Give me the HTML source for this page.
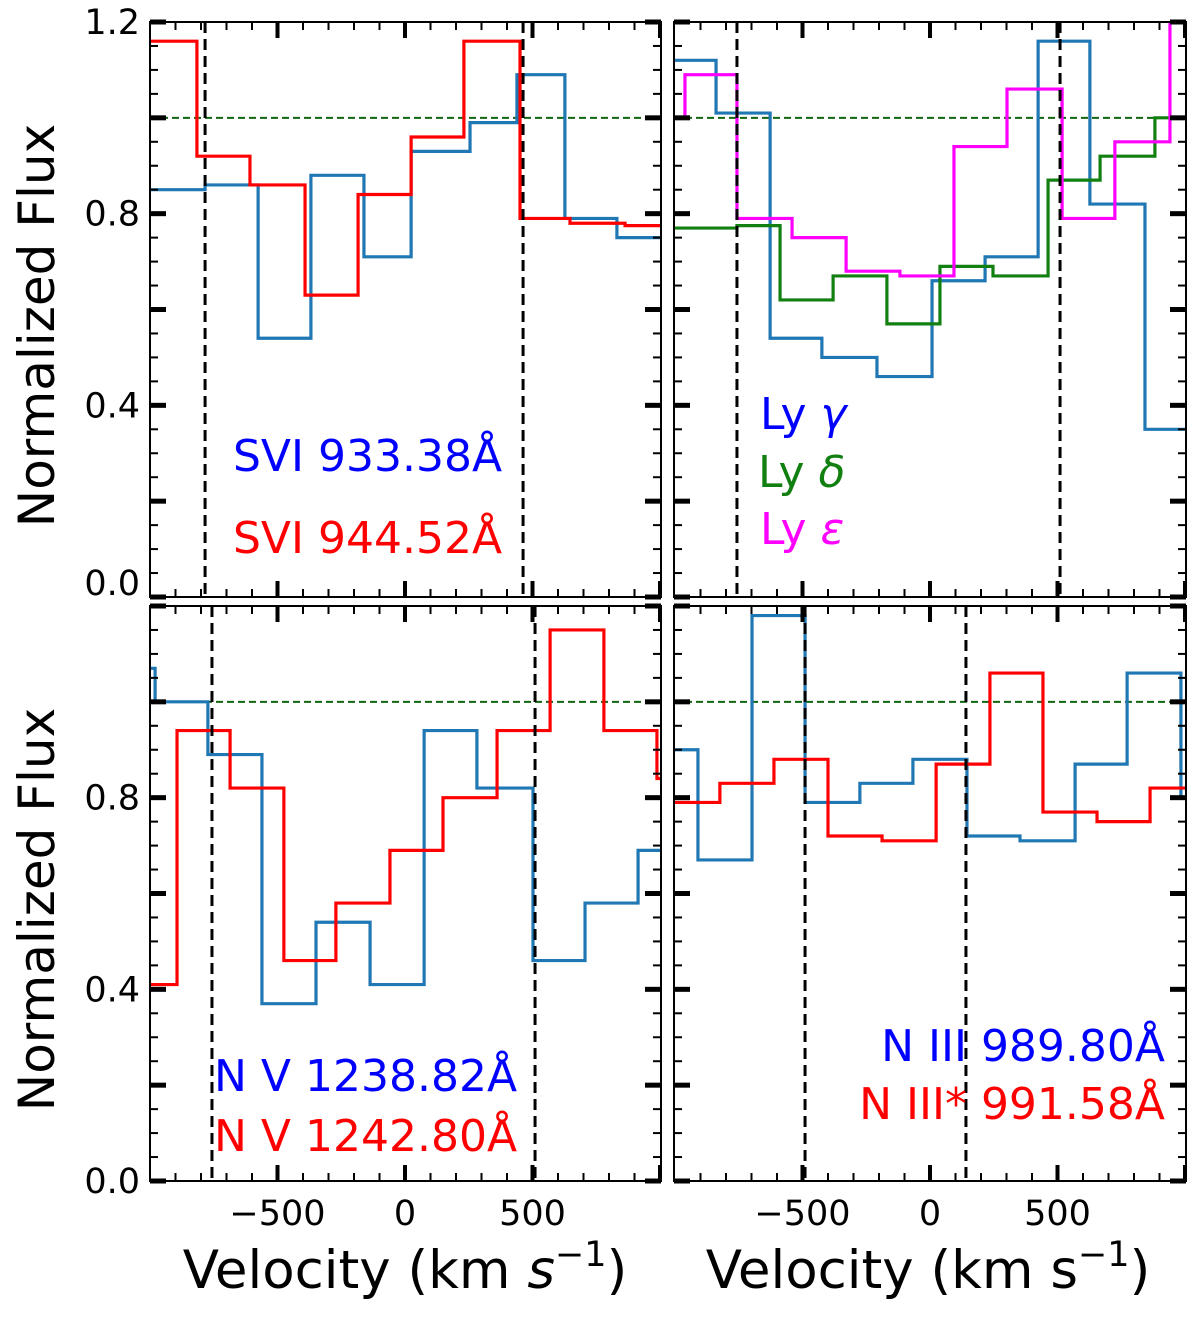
<!DOCTYPE html>
<html><head><meta charset="utf-8"><style>
html,body{margin:0;padding:0;background:#fff;}
svg{display:block;font-family:"DejaVu Sans","Liberation Sans",sans-serif;}
</style></head><body>
<svg id="fig" width="1200" height="1317" viewBox="0 0 1200 1317" xmlns="http://www.w3.org/2000/svg"></svg>
<script>
// ---- data ----
const tlBlueEdges=[-1000,-784,-576,-369,-161,24,255,439,627,831,1010];
const tlBlueVals=[0.85,0.86,0.54,0.88,0.71,0.93,0.99,1.09,0.79,0.75];
const tlRedEdges=[-1000,-816,-608,-392,-184,24,231,451,647,863,1010];
const tlRedVals=[1.16,0.92,0.86,0.63,0.84,0.96,1.16,0.79,0.78,0.775];
const trBlueEdges=[-1000,-839,-627,-424,-208,8,216,424,627,843,1010];
const trBlueVals=[1.12,1.01,0.54,0.50,0.46,0.66,0.71,1.16,0.82,0.35];
const trGreenEdges=[-1000,-757,-588,-380,-169,39,247,463,667,882,1010];
const trGreenVals=[0.77,0.775,0.62,0.67,0.57,0.69,0.67,0.87,0.92,1.0];
const trMagEdges=[-1000,-961,-757,-541,-329,-118,94,302,518,725,941,1010];
const trMagVals=[1.0,1.09,0.79,0.75,0.68,0.67,0.94,1.06,0.79,0.95,1.2];
const blBlueEdges=[-1000,-980,-773,-561,-349,-137,75,282,502,706,914,1010];
const blBlueVals=[1.07,1.0,0.89,0.37,0.54,0.41,0.94,0.82,0.46,0.58,0.69];
const blRedEdges=[-1000,-894,-686,-475,-271,-59,149,361,569,780,988,1010];
const blRedVals=[0.41,0.94,0.82,0.46,0.58,0.69,0.80,0.94,1.15,0.94,0.84];
const brBlueEdges=[-1000,-910,-698,-490,-275,-67,145,353,569,773,984,1010];
const brBlueVals=[0.90,0.67,1.18,0.79,0.83,0.88,0.72,0.71,0.87,1.06,0.80];
const brRedEdges=[-1000,-824,-612,-400,-188,24,235,443,655,863,1010];
const brRedVals=[0.79,0.83,0.88,0.72,0.71,0.87,1.06,0.77,0.75,0.82];
const tlMarkers=[-784,463];
const trMarkers=[-757,510];
const blMarkers=[-757,510];
const brMarkers=[-490,141];
const xTickLabels=[-500,0,500];
const yTickTop=[0.0,0.4,0.8,1.2];
const yTickBottom=[0.0,0.4,0.8];

const NS="http://www.w3.org/2000/svg";
const svg=document.getElementById('fig');
function mk(tag,attrs,parent){const e=document.createElementNS(NS,tag);for(const k in attrs)e.setAttribute(k,attrs[k]);(parent||svg).appendChild(e);return e;}

const panels=[
 {id:'top-left',x0:150,x1:661,y0:22,y1:597,vmax:1.2,x0v:405,ytl:yTickTop,xlab:false,ylab:true,top:true,
  series:[[tlBlueEdges,tlBlueVals,'#1f77b4'],[tlRedEdges,tlRedVals,'#ff0000']],markers:tlMarkers},
 {id:'top-right',x0:674,x1:1186,y0:22,y1:597,vmax:1.2,x0v:930,ytl:yTickTop,xlab:false,ylab:false,top:true,
  series:[[trBlueEdges,trBlueVals,'#1f77b4'],[trGreenEdges,trGreenVals,'#118011'],[trMagEdges,trMagVals,'#ff00ff']],markers:trMarkers},
 {id:'bottom-left',x0:150,x1:661,y0:606,y1:1181,vmax:1.2,x0v:405,ytl:yTickBottom,xlab:true,ylab:true,top:false,
  series:[[blBlueEdges,blBlueVals,'#1f77b4'],[blRedEdges,blRedVals,'#ff0000']],markers:blMarkers},
 {id:'bottom-right',x0:674,x1:1186,y0:606,y1:1181,vmax:1.2,x0v:930,ytl:yTickBottom,xlab:true,ylab:false,top:false,
  series:[[brBlueEdges,brBlueVals,'#1f77b4'],[brRedEdges,brRedVals,'#ff0000']],markers:brMarkers}
];

panels.forEach(p=>{
  const sx=v=>p.x0v+v*0.255;
  const sy=f=>p.y1-f*((p.y1-p.y0)/p.vmax);
  const g=mk('g',{});
  
  
  const cid='clip-'+p.id;
  const cp=mk('clipPath',{id:cid},g);mk('rect',{x:p.x0,y:p.y0,width:p.x1-p.x0,height:p.y1-p.y0},cp);
  const plot=mk('g',{'clip-path':'url(#'+cid+')'},g);
  const cl=mk('line',{x1:p.x0,x2:p.x1,y1:sy(1),y2:sy(1),stroke:'#116611','stroke-width':2,'stroke-dasharray':'7,4'},plot);
  
  
  p.series.forEach((s,si)=>{
    const [E,V,c]=s;let d='';
    for(let i=0;i<V.length;i++){
      const xa=sx(E[i]),xb=sx(E[i+1]),y=sy(V[i]);
      d+=(i===0?'M'+xa+','+y:'L'+xa+','+y)+'L'+xb+','+y;
    }
    const path=mk('path',{d:d,fill:'none',stroke:c,'stroke-width':3.2},plot);
    
    
  });
  p.markers.forEach(m=>{
    const l=mk('line',{x1:sx(m),x2:sx(m),y1:p.y0,y2:p.y1,stroke:'#000','stroke-width':3,'stroke-dasharray':'11,6'},plot);
    
    
  });
  for(let v=-900;v<=1000;v+=100){
    const x=sx(v);if(x<p.x0||x>p.x1)continue;
    const major=v%500===0;const L=major?16:8,w=major?4:2;
    mk('line',{x1:x,x2:x,y1:p.y1,y2:p.y1-L,stroke:'#000','stroke-width':w},g);
    mk('line',{x1:x,x2:x,y1:p.y0,y2:p.y0+L,stroke:'#000','stroke-width':w},g);
  }
  for(let k=0;k<=24;k++){
    const f=k*0.05;const y=sy(f);if(y<p.y0-1)continue;
    const major=k%4===0;const L=major?16:8,w=major?5:2;
    mk('line',{x1:p.x0,x2:p.x0+L,y1:y,y2:y,stroke:'#000','stroke-width':w},g);
    mk('line',{x1:p.x1,x2:p.x1-L,y1:y,y2:y,stroke:'#000','stroke-width':w},g);
  }
  const fr=mk('rect',{x:p.x0,y:p.y0,width:p.x1-p.x0,height:p.y1-p.y0,fill:'none',stroke:'#000','stroke-width':2},g);
  
  
  if(p.ylab){
    p.ytl.forEach(f=>{
      const yy=(p.top&&f===0)?sy(f)-14:sy(f);
      const t=mk('text',{x:p.x0-10,y:yy+12,'text-anchor':'end','font-size':35},g);
      t.textContent=f.toFixed(1);
      
      
    });
    const yc=(p.y0+p.y1)/2+16;
    const yt=mk('text',{x:54,y:yc,'text-anchor':'middle','font-size':50,transform:'rotate(-90 54 '+yc+')'},g);
    yt.textContent='Normalized Flux';
    
    
  }
  if(p.xlab){
    xTickLabels.forEach(v=>{
      const t=mk('text',{x:sx(v),y:p.y1+44,'text-anchor':'middle','font-size':35},g);
      t.textContent=(v<0?'\u2212':'')+Math.abs(v);
      
      
    });
  }
});

function tx(x,y,anchor,size,color,html,name){
  const t=document.createElementNS(NS,'text');
  t.setAttribute('x',x);t.setAttribute('y',y);t.setAttribute('text-anchor',anchor);
  t.setAttribute('font-size',size);t.setAttribute('fill',color);
  t.innerHTML=html;
  
  
  svg.appendChild(t);
}
tx(233,471,'start',44,'#0000ff','SVI 933.38Å','legend-svi-933');
tx(233,553,'start',44,'#ff0000','SVI 944.52Å','legend-svi-944');
tx(760,429,'start',44,'#0000ff','Ly <tspan font-style="italic">γ</tspan>','legend-ly-gamma');
tx(758,487,'start',44,'#118011','Ly <tspan font-style="italic">δ</tspan>','legend-ly-delta');
tx(760,544,'start',44,'#ff00ff','Ly <tspan font-style="italic">ε</tspan>','legend-ly-epsilon');
tx(214,1091,'start',44,'#0000ff','N V 1238.82Å','legend-nv-1238');
tx(214,1151,'start',44,'#ff0000','N V 1242.80Å','legend-nv-1242');
tx(1165,1061,'end',44,'#0000ff','N III 989.80Å','legend-niii-989');
tx(1165,1119,'end',44,'#ff0000','N III* 991.58Å','legend-niii-991');
tx(405,1288,'middle',53,'#000','Velocity (km <tspan font-style="italic">s</tspan><tspan dy="-22" font-size="35">−1</tspan><tspan dy="22">)</tspan>','x-axis-title-left');
tx(928,1288,'middle',53,'#000','Velocity (km s<tspan dy="-22" font-size="35">−1</tspan><tspan dy="22">)</tspan>','x-axis-title-right');
</script>
</body></html>
